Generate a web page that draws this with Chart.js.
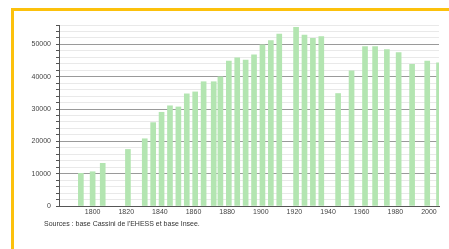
<!DOCTYPE html>
<html>
<head>
<meta charset="utf-8">
<script src="https://cdn.jsdelivr.net/npm/chart.js@4"></script>
<style>
  html, body { margin: 0; padding: 0; background: #fff; overflow: hidden; }
  #wrap { position: relative; width: 449px; height: 249px; }
  #frame { position: absolute; left: 11px; top: 8px; width: 500px; height: 300px;
           border-left: 3px solid #fcc10c; border-top: 3px solid #fcc10c; }
  #chart { position: absolute; left: 0; top: 0; }
</style>
</head>
<body>
<div id="wrap">
  <div id="frame"></div>
  <canvas id="chart" width="449" height="249"></canvas>
</div>
<script>
// Population by census year
const years = [1793, 1800, 1806, 1821, 1831, 1836, 1841, 1846, 1851, 1856, 1861, 1866,
  1872, 1876, 1881, 1886, 1891, 1896, 1901, 1906, 1911, 1921, 1926, 1931, 1936,
  1946, 1954, 1962, 1968, 1975, 1982, 1990, 1999, 2006];
const population = [10100, 10600, 13200, 17500, 20800, 25800, 29000, 31000, 30650, 34700,
  35300, 38450, 38450, 39950, 44800, 45850, 45150, 46800, 49900, 51150, 53200, 55300,
  52900, 51900, 52400, 34800, 41800, 49300, 49300, 48360, 47500, 43800, 44850, 44300];
const yearLabels = [1800, 1820, 1840, 1860, 1880, 1900, 1920, 1940, 1960, 1980, 2000];
const popTicks = [0, 2000, 4000, 6000, 8000, 10000, 12000, 14000, 16000, 18000, 20000,
  22000, 24000, 26000, 28000, 30000, 32000, 34000, 36000, 38000, 40000, 42000, 44000,
  46000, 48000, 50000, 52000, 54000, 56000];
const sourceText = "Sources : base Cassini de l'EHESS et base Insee.";

const font = { family: '"Liberation Sans", Arial, sans-serif', size: 7 };

const sourcePlugin = {
  id: 'sourceText',
  afterDraw(chart) {
    const ctx = chart.ctx;
    ctx.save();
    ctx.font = '7px "Liberation Sans", Arial, sans-serif';
    ctx.fillStyle = '#333';
    ctx.textBaseline = 'middle';
    ctx.fillText(sourceText, 44, 224);
    ctx.restore();
  }
};

const ctx = document.getElementById('chart').getContext('2d');
new Chart(ctx, {
  type: 'bar',
  data: {
    datasets: [{
      data: years.map((y, i) => ({ x: y, y: population[i] })),
      backgroundColor: '#b3e5b1',
      borderWidth: 0,
      barThickness: 5
    }]
  },
  options: {
    responsive: false,
    animation: false,
    devicePixelRatio: 1,
    layout: { padding: { top: 25, right: 10, left: 0, bottom: 0 } },
    plugins: { legend: { display: false }, tooltip: { enabled: false } },
    scales: {
      x: {
        type: 'linear',
        min: 1780,
        max: 2006,
        offset: false,
        grid: { display: false, drawTicks: false },
        border: { display: true, color: '#555', width: 1 },
        ticks: {
          autoSkip: false,
          maxRotation: 0,
          padding: 2,
          color: '#444',
          font: font,
          callback: v => String(v)
        },
        afterBuildTicks(scale) { scale.ticks = yearLabels.map(v => ({ value: v })); },
        afterFit(scale) { scale.height = 43; }
      },
      y: {
        min: 0,
        max: 56000,
        grid: {
          color: c => (c.tick && c.tick.value % 10000 === 0) ? '#9a9a9a' : '#e9e9e9',
          tickColor: '#555',
          tickLength: 3,
          lineWidth: 1
        },
        border: { display: true, color: '#555', width: 1 },
        ticks: {
          autoSkip: false,
          padding: 5,
          color: '#444',
          font: font,
          callback: v => v % 10000 === 0 ? String(v) : ''
        },
        afterBuildTicks(scale) { scale.ticks = popTicks.map(v => ({ value: v })); },
        afterFit(scale) { scale.width = 59; }
      }
    }
  },
  plugins: [sourcePlugin]
});
</script>
</body>
</html>
